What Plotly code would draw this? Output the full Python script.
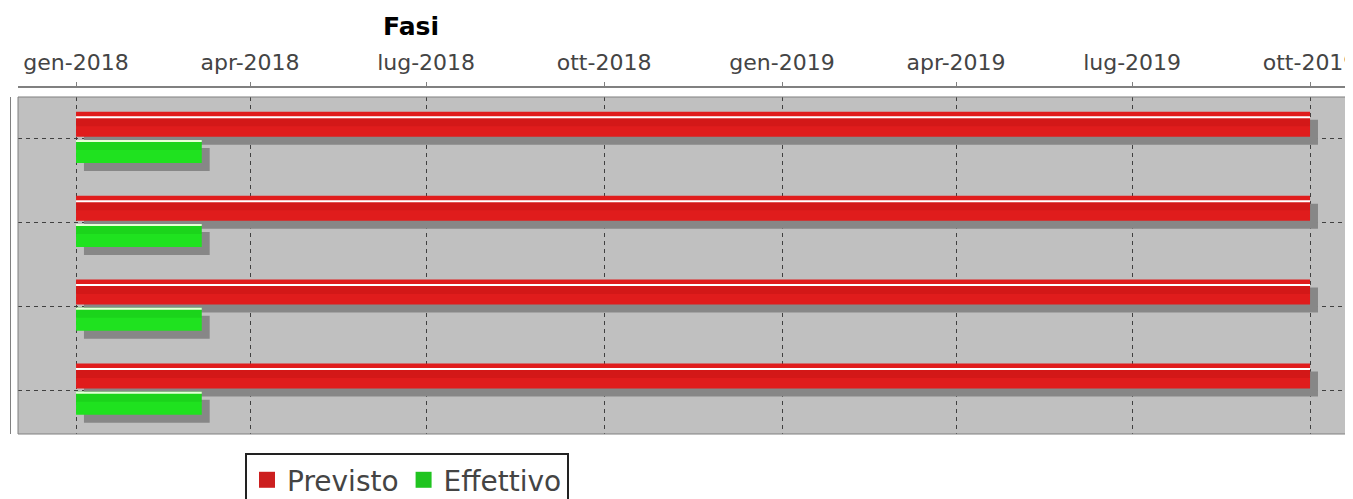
import plotly.graph_objects as go
import pandas as pd

# righe del Gantt (una per fase), dall'alto in basso
fasi = [0, 1, 2, 3]

previsto_inizio = ["2018-01-01", "2018-01-01", "2018-01-01", "2018-01-01"]
previsto_fine = ["2019-10-01", "2019-10-01", "2019-10-01", "2019-10-01"]

effettivo_inizio = ["2018-01-01", "2018-01-01", "2018-01-01", "2018-01-01"]
effettivo_fine = ["2018-03-07", "2018-03-07", "2018-03-07", "2018-03-07"]

tick_date = ["2018-01-01", "2018-04-01", "2018-07-01", "2018-10-01",
             "2019-01-01", "2019-04-01", "2019-07-01", "2019-10-01"]
tick_testo = ["gen-2018", "apr-2018", "lug-2018", "ott-2018",
              "gen-2019", "apr-2019", "lug-2019", "ott-2019"]

PX_RIGA = 83.9      # pixel per riga
OMBRA_PX = 8
OMBRA_GIORNI = 4.1


def durata_ms(inizio, fine):
    return [(pd.Timestamp(f) - pd.Timestamp(i)).total_seconds() * 1000 for i, f in zip(inizio, fine)]


def sposta(date, giorni):
    return [pd.Timestamp(d) + pd.Timedelta(days=giorni) for d in date]


def u(px):
    return px / PX_RIGA


serie = [
    # nome, inizio, fine, colore, offset, larghezza, riflesso offset, colore riflesso
    ("Previsto", previsto_inizio, previsto_fine, "#e01c1c", u(-26.5), u(25), u(-22), "#ffffff"),
    ("Effettivo", effettivo_inizio, effettivo_fine, "#1fe21f", u(1.7), u(23), u(1.7), "#e6ffd8"),
]

fig = go.Figure()

# ombre
for nome, ini, fin, col, off, w, _, _ in serie:
    fig.add_trace(go.Bar(y=fasi, x=durata_ms(ini, fin), base=sposta(ini, OMBRA_GIORNI),
                         orientation="h", offset=off + u(OMBRA_PX), width=w,
                         marker=dict(color="#878787", line_width=0),
                         showlegend=False, hoverinfo="skip"))

# barre
for nome, ini, fin, col, off, w, _, _ in serie:
    fig.add_trace(go.Bar(y=fasi, x=durata_ms(ini, fin), base=ini, name=nome,
                         orientation="h", offset=off, width=w,
                         marker=dict(color=col, line_width=0), showlegend=False))

# parte alta piu' scura (effetto gradiente)
for nome, ini, fin, col, off, w, roff, rcol in serie:
    fig.add_trace(go.Bar(y=fasi, x=durata_ms(ini, fin), base=ini,
                         orientation="h", offset=roff + u(2), width=u(8),
                         marker=dict(color="rgba(120,0,0,0.12)" if nome == "Previsto" else "rgba(0,90,0,0.10)",
                                     line_width=0),
                         showlegend=False, hoverinfo="skip"))

# riflesso chiaro in alto
for nome, ini, fin, col, off, w, roff, rcol in serie:
    fig.add_trace(go.Bar(y=fasi, x=durata_ms(ini, fin), base=ini,
                         orientation="h", offset=roff, width=u(2),
                         marker=dict(color=rcol, line_width=0),
                         showlegend=False, hoverinfo="skip"))

# voci di legenda
for nome, colore in [("Previsto", "#cc1f1f"), ("Effettivo", "#20c420")]:
    fig.add_trace(go.Scatter(x=[None], y=[None], mode="markers", name=nome,
                             marker=dict(symbol="square", size=16, color=colore)))

fig.update_layout(
    width=1345, height=499,
    margin=dict(l=2, r=0, t=79, b=73, autoexpand=False),
    paper_bgcolor="white", plot_bgcolor="#c0c0c0",
    barmode="overlay",
    font=dict(family="DejaVu Sans", color="#444"),
    title=dict(text="Fasi", x=403 / 1345, xref="container", xanchor="center",
               y=1 - 18 / 499, yref="container", yanchor="middle",
               font=dict(family="DejaVu Sans", size=25, color="black", weight="bold")),
    legend=dict(orientation="h", x=0.175, xanchor="left", y=-0.055, yanchor="top",
                bgcolor="white", bordercolor="#222", borderwidth=2,
                font=dict(family="DejaVu Sans", size=28, color="#444")),
    xaxis=dict(type="date", range=["2017-12-02", "2019-10-23 05:00"],
               side="top", anchor="free", position=1, domain=[8 / 1343, 1],
               automargin=False, ticklabeloverflow="allow",
               tickvals=tick_date, ticktext=tick_testo,
               showline=True, linecolor="#808080", linewidth=2,
               ticks="outside", ticklen=4, tickcolor="#808080", ticklabelstandoff=3,
               showgrid=True, gridcolor="#404040", griddash="4px,4px", gridwidth=1,
               zeroline=False, tickfont=dict(family="DejaVu Sans", size=22, color="#444")),
    yaxis=dict(domain=[0, 0.9712], range=[3.524, -0.492], anchor="free", position=0,
               automargin=False,
               showline=True, linecolor="#808080", linewidth=1,
               tickvals=fasi, showticklabels=False, ticks="",
               showgrid=True, gridcolor="#404040", griddash="4px,4px", gridwidth=1,
               zeroline=False),
    shapes=[dict(type="rect", xref="x domain", yref="y domain", x0=0, x1=1.02, y0=0, y1=1,
                 line=dict(color="#808080", width=1), fillcolor="rgba(0,0,0,0)")],
)

# niente barre di scorrimento nella pagina
fig.write_html("out.html", post_script="document.body.style.overflow = 'hidden';")
